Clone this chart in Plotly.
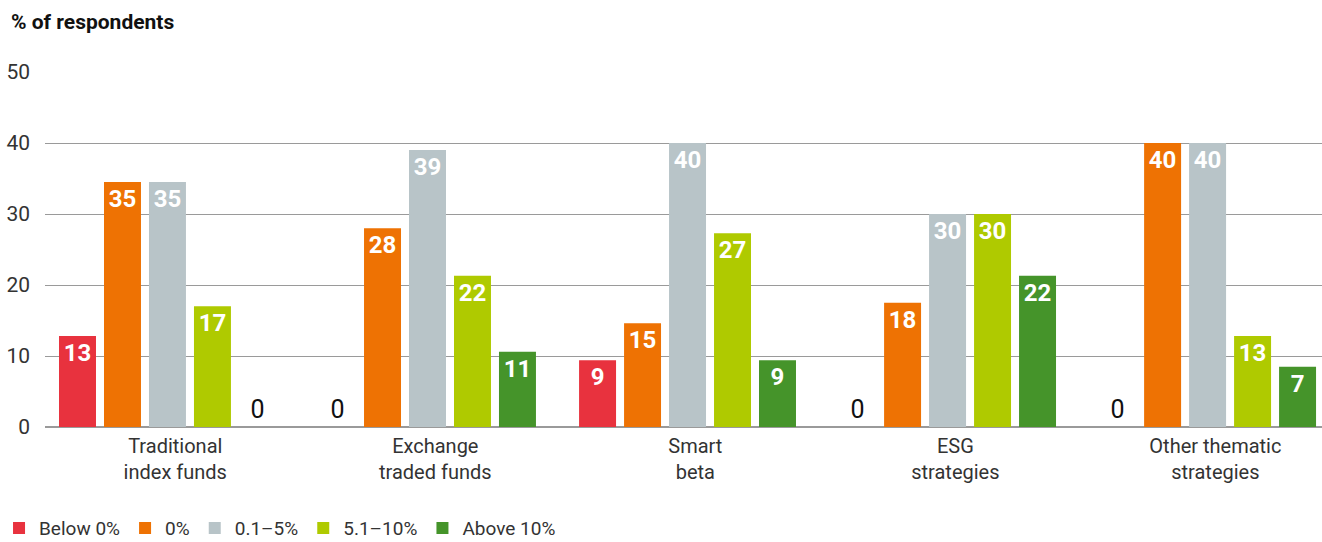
import plotly.graph_objects as go

categories = ["Traditional<br>index funds", "Exchange<br>traded funds", "Smart<br>beta",
              "ESG<br>strategies", "Other thematic<br>strategies"]
series_names = ["Below 0%", "0%", "0.1–5%", "5.1–10%", "Above 10%"]
colors = ["#E8323E", "#EE7203", "#B8C4C8", "#AFCA00", "#45942A"]

below0 = [12.8, 0, 9.4, 0, 0]
zero = [34.5, 28.0, 14.6, 17.5, 40.0]
low = [34.5, 39.0, 40.0, 30.0, 40.0]
mid = [17.0, 21.3, 27.3, 30.0, 12.8]
high = [0, 10.6, 9.4, 21.3, 8.5]

below0_lbl = [13, 0, 9, 0, 0]
zero_lbl = [35, 28, 15, 18, 40]
low_lbl = [35, 39, 40, 30, 40]
mid_lbl = [17, 22, 27, 30, 13]
high_lbl = [0, 11, 9, 22, 7]

values = [below0, zero, low, mid, high]
labels = [below0_lbl, zero_lbl, low_lbl, mid_lbl, high_lbl]

FONT = "Roboto, Liberation Sans, Arial, sans-serif"
xpos = list(range(len(categories)))

fig = go.Figure()
for name, col, vals, lbls in zip(series_names, colors, values, labels):
    fig.add_trace(go.Bar(
        x=xpos, y=vals, name=name, marker_color=col,
        marker_line_width=0,
        text=[str(l) for l in lbls],
        textposition=["outside" if v == 0 else "inside" for v in vals],
        insidetextanchor="end",
        insidetextfont=dict(color="white", size=24, family=FONT, weight="bold"),
        outsidetextfont=dict(color="#111111", size=25, family=FONT),
        textangle=0, cliponaxis=False,
    ))

fig.update_layout(
    barmode="group", bargap=0.135, bargroupgap=0.178,
    width=1322, height=542,
    margin=dict(l=45, r=0, t=72, b=115, autoexpand=False),
    plot_bgcolor="white", paper_bgcolor="white",
    font=dict(family=FONT, color="#333333"),
    uniformtext=dict(mode=False),
    xaxis=dict(tickmode="array", tickvals=[p + 0.03 for p in xpos], ticktext=categories,
               range=[-0.471, 4.44], showgrid=False, showline=False, ticks="", automargin=False,
               tickfont=dict(size=20, color="#333333"), ticklabelstandoff=5),
    yaxis=dict(range=[0, 50], dtick=10, showgrid=True, gridcolor="#9a9a9a", gridwidth=1,
               zeroline=True, zerolinecolor="#9a9a9a", zerolinewidth=1.5, automargin=False,
               tickfont=dict(size=21, color="#333333"), ticklabelstandoff=14),
    legend=dict(orientation="h", x=-0.036, xanchor="left", y=-0.285, yanchor="middle",
                itemwidth=30,
                font=dict(size=19, color="#333333"), traceorder="normal"),
    annotations=[dict(text="<b>% of respondents</b>", xref="paper", yref="paper",
                      x=-0.028, y=1.14, xanchor="left", yanchor="middle", showarrow=False,
                      font=dict(size=21, color="#111111"))],
)

fig.write_html("out.html", config={"displayModeBar": False},
               post_script="document.body.style.margin='0';document.body.style.overflow='hidden';")
